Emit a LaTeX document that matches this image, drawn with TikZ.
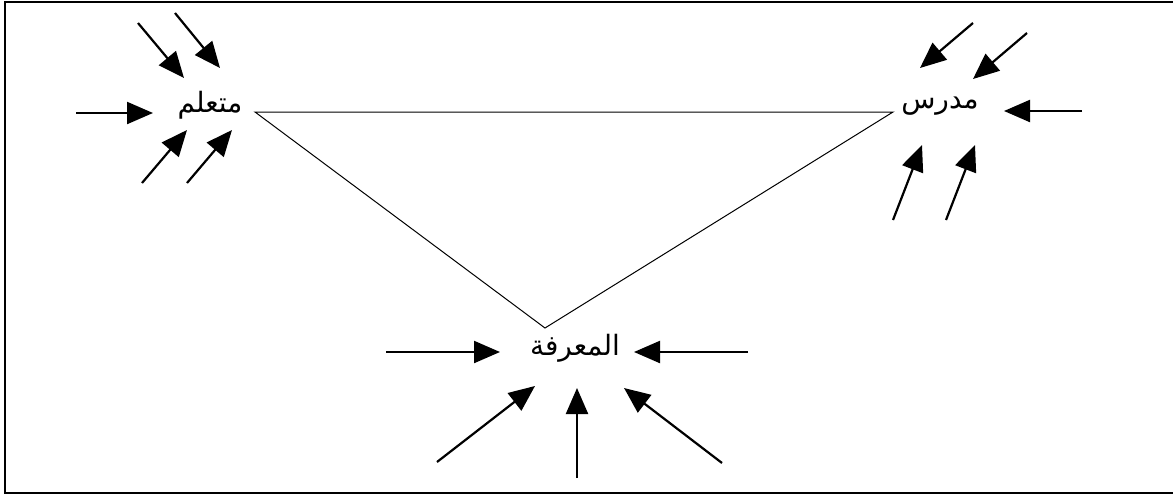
\documentclass[tikz,border=0pt]{standalone}
\usepackage{fontspec}
\TeXXeTstate=1
\newfontfamily\arabicfont[Script=Arabic]{DejaVu Sans}
\usetikzlibrary{arrows.meta}
\begin{document}
\begin{tikzpicture}[x=1pt,y=-1pt,
  lbl/.style={font=\arabicfont\fontsize{28}{32}\selectfont, inner sep=0pt},
  inarrow/.style={line width=2.2pt, -{Triangle[length=26pt 0 0,width=22pt 0 0]}},
  edge/.style={line width=1pt},
  frame/.style={line width=2pt}]
\useasboundingbox (0,0) rectangle (1173,496);
% frame (right side lies beyond the picture)
\draw[frame] (1180,2) -- (5,2) -- (5,493) -- (1180,493);
% labels
\node[lbl] (learner) at (210,105) {\beginR متعلم\endR};
\node[lbl] (teacher) at (940,106) {\beginR مدرس\endR};
\node[lbl] (know) at (575,348) {\beginR المعرفة\endR};
% triangle
\coordinate (vl) at (255,112);
\coordinate (vr) at (893,112);
\coordinate (vb) at (545,328);
\draw[edge] (vl) -- (vr) -- (vb) -- cycle;
% learner arrows
\coordinate (l1s) at (138,23);  \coordinate (l1e) at (184,78);
\coordinate (l2s) at (175,13);  \coordinate (l2e) at (220,68);
\coordinate (l3s) at (76,113);  \coordinate (l3e) at (153,113);
\coordinate (l4s) at (142,183); \coordinate (l4e) at (187,130);
\coordinate (l5s) at (187,183); \coordinate (l5e) at (232,130);
\foreach \a in {1,...,5} \draw[inarrow] (l\a s) -- (l\a e);
% teacher arrows
\coordinate (t1s) at (973,23);   \coordinate (t1e) at (920,68);
\coordinate (t2s) at (1027,33);  \coordinate (t2e) at (973,79);
\coordinate (t3s) at (1082,111); \coordinate (t3e) at (1004,111);
\coordinate (t4s) at (893,220);  \coordinate (t4e) at (922,145);
\coordinate (t5s) at (946,220);  \coordinate (t5e) at (975,145);
\foreach \a in {1,...,5} \draw[inarrow] (t\a s) -- (t\a e);
% knowledge arrows
\coordinate (k1s) at (386,352); \coordinate (k1e) at (500,352);
\coordinate (k2s) at (748,352); \coordinate (k2e) at (634,352);
\coordinate (k3s) at (437,462); \coordinate (k3e) at (535,386);
\coordinate (k4s) at (577,478); \coordinate (k4e) at (577,388);
\coordinate (k5s) at (722,463); \coordinate (k5e) at (624,388);
\foreach \a in {1,...,5} \draw[inarrow] (k\a s) -- (k\a e);
\end{tikzpicture}
\end{document}
